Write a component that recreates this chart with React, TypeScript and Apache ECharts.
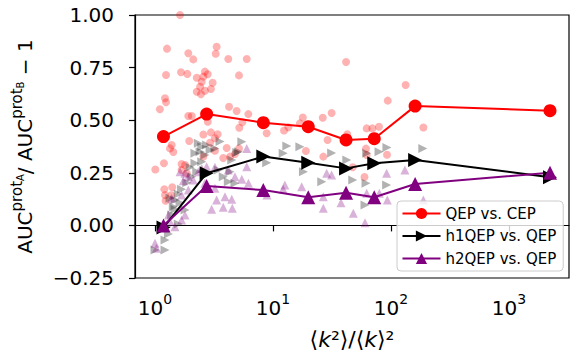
import React, { useEffect, useRef } from 'react';
import * as echarts from 'echarts';

// bin centres of <k^2>/<k>^2 and averaged values
const binX = [1.18, 2.74, 8.28, 19.9, 41.6, 72.1, 160, 2225];
const qepVsCep = [0.422, 0.529, 0.488, 0.469, 0.406, 0.412, 0.567, 0.545];
const h1VsQep = [-0.01, 0.248, 0.327, 0.298, 0.271, 0.295, 0.311, 0.229];
const h2VsQep = [0.0, 0.187, 0.168, 0.134, 0.155, 0.134, 0.197, 0.25];

// individual networks
const qepVsCepPoints: [number, number][] = [
  [1.63, 1.0], [1.264, 0.84], [1.915, 0.818], [2.11, 0.789], [3.33, 0.849], [3.27, 0.816], [4.18, 0.791], [5.99, 0.791],
  [1.24, 0.715], [1.66, 0.728], [1.88, 0.72], [2.65, 0.731], [2.8, 0.718], [2.57, 0.707], [2.26, 0.702], [2.49, 0.683],
  [3.08, 0.678], [5.15, 0.713], [2.41, 0.659], [2.26, 0.635], [2.65, 0.64], [2.98, 0.648], [2.45, 0.623], [1.215, 0.604],
  [1.24, 0.585], [1.1, 0.552], [4.24, 0.564], [4.92, 0.544], [6.18, 0.529], [1.915, 0.52], [2.05, 0.52], [2.8, 0.493],
  [5.5, 0.49], [5.18, 0.464], [2.98, 0.442], [2.57, 0.432], [3.4, 0.433], [41.6, 0.777], [133, 0.667], [93.8, 0.593],
  [31.4, 0.534], [26.4, 0.512], [17.9, 0.513], [16.9, 0.485], [12.4, 0.451], [13.5, 0.466], [8.84, 0.438], [188, 0.465],
  [62.2, 0.461], [69.5, 0.461], [79.1, 0.469], [42.6, 0.433], [29.0, 0.406], [19.0, 0.354], [61.4, 0.365], [92.5, 0.336],
  [26.7, 0.327], [59.6, 0.23], [1.95, 0.401], [1.385, 0.382], [1.34, 0.366], [1.43, 0.349], [2.93, 0.393], [4.05, 0.368],
  [3.22, 0.355], [4.32, 0.327], [3.79, 0.32], [2.57, 0.327], [1.19, 0.295], [1.006, 0.266], [1.68, 0.292], [1.8, 0.287],
  [4.76, 0.339], [1.68, 0.263], [1.86, 0.248], [1.2, 0.172], [1.4, 0.181], [1.215, 0.144], [1.23, 0.117], [1.37, 0.143],
  [3.22, 0.414], [5.15, 0.366], [62.2, 0.335], [47.4, 0.276],
];
const h1VsQepPoints: [number, number][] = [
  [2.33, 0.39], [2.49, 0.374], [2.74, 0.382], [2.41, 0.35], [2.65, 0.335], [2.18, 0.343], [2.93, 0.358], [3.22, 0.366],
  [3.56, 0.399], [5.44, 0.398], [4.93, 0.346], [4.47, 0.311], [2.18, 0.295], [1.98, 0.276], [2.49, 0.303], [2.26, 0.255],
  [2.05, 0.231], [1.86, 0.203], [1.68, 0.172], [1.575, 0.149], [1.476, 0.121], [1.63, 0.108], [1.796, 0.073], [1.476, 0.077],
  [1.385, 0.049], [1.575, 0.007], [1.256, -0.006], [1.3, -0.041], [1.215, -0.069], [1.215, -0.117], [1.0, -0.117], [3.44, 0.263],
  [3.79, 0.231], [4.18, 0.208], [4.76, 0.2], [4.32, 0.255], [5.08, 0.35], [13.1, 0.377], [16.9, 0.374], [12.2, 0.343],
  [31.4, 0.344], [42.2, 0.311], [62.2, 0.343], [79.1, 0.35], [92.4, 0.37], [186, 0.365], [18.1, 0.255], [25.9, 0.208],
  [47.4, 0.216], [61.4, 0.2], [91.8, 0.192], [60.2, 0.097], [1.34, 0.129], [1.43, 0.089], [8.84, 0.298],
];
const h2VsQepPoints: [number, number][] = [
  [1.63, 0.255], [1.796, 0.248], [1.915, 0.231], [2.33, 0.255], [2.49, 0.271], [2.74, 0.279], [3.22, 0.276], [2.11, 0.216],
  [2.65, 0.2], [3.22, 0.176], [4.76, 0.231], [5.44, 0.219], [6.19, 0.2], [4.18, 0.263], [5.99, 0.366], [3.92, 0.136],
  [3.33, 0.121], [3.02, 0.077], [3.79, 0.086], [4.52, 0.081], [1.915, 0.168], [1.68, 0.144], [1.385, 0.129], [1.796, 0.049],
  [1.68, 0.026], [1.34, 0.018], [1.476, -0.006], [1.0, -0.085], [1.03, -0.109], [1.3, 0.049], [1.74, 0.212], [4.47, 0.124],
  [5.99, 0.279], [12.6, 0.192], [17.5, 0.184], [12.2, 0.172], [8.9, 0.144], [28.5, 0.248], [31.4, 0.24], [26.7, 0.136],
  [26.7, 0.081], [37.7, 0.108], [47.9, 0.058], [60.2, 0.013], [62.2, 0.153], [79.6, 0.153], [93, 0.121], [91.8, 0.248],
  [131, 0.263], [188, 0.121],
];

const seriesNames = ['QEP vs. CEP', 'h1QEP vs. QEP', 'h2QEP vs. QEP'];
const xTickValues = [1, 10, 100, 1000];
const xMin = 0.677;
const xMax = 3223;
const yMin = -0.25;
const yMax = 1.0;
const yStep = 0.25;

const FONT = 'DejaVu Sans';

export default function App() {
  const ref = useRef<HTMLDivElement>(null);
  useEffect(() => {
    document.body.style.margin = '0';
    const chart = echarts.init(ref.current!, null, { renderer: 'svg' });
    const pair = (vals: number[]) => binX.map((x, i) => [x, vals[i]]);
    const axisLineStyle = { color: '#000', width: 1.2 };
    chart.setOption({
      animation: false,
      backgroundColor: '#fff',
      grid: {
        left: 135, right: 15, top: 15, bottom: 80, show: true, borderColor: '#000', borderWidth: 1.2,
        backgroundColor: 'transparent', containLabel: false, outerBoundsMode: 'none',
      },
      legend: {
        data: seriesNames,
        orient: 'vertical',
        left: 397,
        top: 201,
        itemWidth: 38,
        itemHeight: 14,
        itemGap: 4.5,
        padding: [3.5, 7, 3.5, 4.5],
        backgroundColor: 'rgba(255,255,255,0.8)',
        borderColor: '#cccccc',
        borderWidth: 1,
        borderRadius: 4,
        textStyle: { fontFamily: FONT, fontSize: 15, lineHeight: 18, color: '#000' },
      },
      xAxis: {
        type: 'log',
        logBase: 10,
        min: xMin,
        max: xMax,
        name: '{a|⟨}{i|k}{a|²⟩/⟨}{i|k}{a|⟩²}',
        nameLocation: 'middle',
        nameGap: 50,
        nameTextStyle: {
          rich: {
            a: { fontFamily: FONT, fontSize: 22, color: '#000' },
            i: { fontFamily: FONT, fontSize: 22, fontStyle: 'italic', color: '#000' },
          },
        },
        axisLine: { show: true, lineStyle: axisLineStyle },
        axisTick: { show: true, inside: false, length: 6, lineStyle: axisLineStyle, customValues: xTickValues },
        minorTick: { show: false },
        splitLine: { show: false },
        axisLabel: {
          customValues: xTickValues,
          margin: 14,
          formatter: (v: number) => `{b|10}{s|${Math.round(Math.log10(v))}}`,
          rich: {
            b: { fontFamily: FONT, fontSize: 20, lineHeight: 26, color: '#000', verticalAlign: 'bottom' },
            s: { fontFamily: FONT, fontSize: 14, lineHeight: 14, color: '#000', verticalAlign: 'top' },
          },
        },
      },
      yAxis: {
        type: 'value',
        min: yMin,
        max: yMax,
        interval: yStep,
        name: '{n|AUC}{p|prot}{q|A}{n|/ AUC}{p|prot}{q|B}{n| − 1}',
        nameLocation: 'middle',
        nameRotate: 90,
        nameGap: 100,
        nameTextStyle: {
          rich: {
            n: { fontFamily: FONT, fontSize: 20, lineHeight: 28, color: '#000', verticalAlign: 'bottom' },
            p: { fontFamily: FONT, fontSize: 15, lineHeight: 18, color: '#000', verticalAlign: 'top', padding: [2, 0, 0, 0] },
            q: { fontFamily: FONT, fontSize: 10, lineHeight: 18, color: '#000', verticalAlign: 'top', padding: [8, 0, 0, 0] },
          },
        },
        axisLine: { show: true, lineStyle: axisLineStyle },
        axisTick: { show: true, inside: false, length: 6, lineStyle: axisLineStyle },
        splitLine: { show: false },
        axisLabel: {
          margin: 21,
          fontFamily: FONT,
          fontSize: 20,
          color: '#000',
          formatter: (v: number) => (v < 0 ? '−' : '') + Math.abs(v).toFixed(2),
        },
      },
      series: [
        {
          type: 'scatter', data: qepVsCepPoints, symbol: 'circle', symbolSize: 8,
          itemStyle: { color: '#ff0000', opacity: 0.3 }, silent: true,
        },
        {
          type: 'scatter', data: h1VsQepPoints, symbol: 'triangle', symbolSize: 9, symbolRotate: -90,
          itemStyle: { color: '#000000', opacity: 0.3 }, silent: true,
        },
        {
          type: 'scatter', data: h2VsQepPoints, symbol: 'triangle', symbolSize: 9,
          itemStyle: { color: '#800080', opacity: 0.3 }, silent: true,
        },
        {
          name: seriesNames[0], type: 'line', data: pair(qepVsCep), symbol: 'circle', symbolSize: 13, showSymbol: true,
          lineStyle: { color: '#ff0000', width: 2 }, itemStyle: { color: '#ff0000' },
        },
        {
          name: seriesNames[1], type: 'line', data: pair(h1VsQep), symbol: 'triangle', symbolSize: 14, symbolRotate: -90, showSymbol: true,
          lineStyle: { color: '#000000', width: 2 }, itemStyle: { color: '#000000' },
        },
        {
          name: seriesNames[2], type: 'line', data: pair(h2VsQep), symbol: 'triangle', symbolSize: 14, showSymbol: true,
          lineStyle: { color: '#800080', width: 2 }, itemStyle: { color: '#800080' },
        },
      ],
    });
    return () => chart.dispose();
  }, []);
  return <div ref={ref} style={{ width: 584, height: 358 }} />;
}
